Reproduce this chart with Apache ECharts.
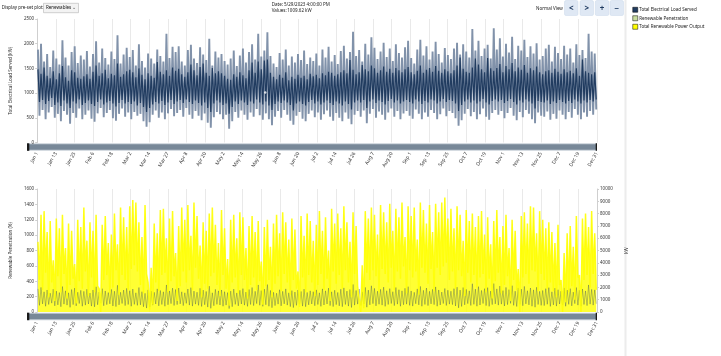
<!DOCTYPE html>
<html><head><meta charset="utf-8">
<script src="https://cdn.jsdelivr.net/npm/echarts@6/dist/echarts.min.js"></script>
<style>html,body{margin:0;padding:0;background:#fff}#c{width:721px;height:356px}</style>
</head><body><div id="c"></div><script>
const tickLabels = ['Jan 1','Jan 13','Jan 25','Feb 6','Feb 18','Mar 2','Mar 14','Mar 27','Apr 8','Apr 20','May 2','May 14','May 26','Jun 8','Jun 20','Jul 2','Jul 14','Jul 26','Aug 7','Aug 20','Sep 1','Sep 13','Sep 25','Oct 7','Oct 19','Nov 1','Nov 13','Nov 25','Dec 7','Dec 19','Dec 31'];

// Total electrical load served (kW), per 2-day period: outer envelope
const loadHi = [1880,2000,1640,1790,1530,1860,1700,1580,2070,1720,1560,1830,1950,1610,1760,
1680,1850,1540,1790,2050,1620,1900,1710,1580,1840,1690,2170,1600,1780,1920,
1730,1870,1560,1990,1650,1520,1800,1700,1600,1880,1750,1640,2200,1710,1940,
1830,1950,1640,1560,1870,1980,1700,1610,1930,1780,1670,2100,1560,1840,1720,
1790,1650,1580,1700,1860,1550,1760,1900,1620,1830,1990,1680,2200,1740,1860,
2230,1750,1600,1530,1810,1680,1880,1560,1740,1620,1790,1670,1860,1590,1720,
1650,1800,1560,1880,1720,1940,1640,1770,1590,1850,1960,1700,1830,2240,1750,
1870,1640,2000,1780,2130,1920,1690,1840,2020,1730,1900,1650,1990,1810,1720,
1930,2060,1710,1600,1880,2080,1760,1950,1680,1840,2040,1790,1620,1910,1770,
1690,1900,2020,1780,1990,1840,1720,2297,1860,2060,1750,1900,1980,1700,2310,
1880,2110,1740,2000,1820,2140,1690,1960,1860,2080,1730,1950,1800,2010,1680,
1750,1900,1980,1640,1940,1810,1690,1960,1780,1900,1620,1990,1770,1870,1710,2200,1840,1800];
const loadLo = [540,660,470,610,720,500,580,430,640,560,380,600,500,690,470,
560,650,480,420,590,700,510,600,660,490,440,580,690,520,610,
470,620,540,580,430,320,410,560,650,500,610,470,590,680,530,
600,660,520,700,560,480,640,540,450,590,400,300,510,620,570,
470,560,280,430,620,500,650,560,460,610,520,680,550,460,590,
470,350,520,640,500,660,560,440,360,540,620,480,430,580,650,
510,610,460,570,650,520,440,600,500,430,610,480,370,560,640,
520,650,390,580,680,500,630,560,460,610,690,520,640,470,590,
640,540,480,670,580,470,610,520,660,600,470,570,690,530,640,
600,490,340,450,580,680,530,620,470,570,690,520,460,600,660,
560,640,490,600,700,540,450,620,510,660,580,470,390,610,540,
520,630,460,580,480,650,560,470,620,500,680,560,470,610,520,640,560,670];
// dense core of the load trace
const coreHi = [1480,1390,1520,1350,1300,1440,1280,1400,1550,1320,1250,1460,1420,1310,1290,
1340,1380,1290,1430,1560,1350,1400,1470,1300,1390,1360,1600,1330,1380,1440,
1470,1420,1320,1500,1370,1280,1400,1350,1310,1630,1430,1380,1460,1350,1520,
1450,1490,1380,1330,1420,1580,1460,1360,1530,1600,1410,1350,1510,1400,1440,
1400,1350,1290,1270,1380,1330,1420,1360,1300,1460,1620,1410,1640,1480,1660,
1680,1410,1330,1280,1370,1310,1420,1260,1330,1290,1370,1310,1350,1280,1390,
1340,1370,1300,1400,1360,1430,1410,1350,1380,1420,1460,1400,1670,1470,1380,
1420,1570,1480,1440,1560,1500,1410,1460,1540,1430,1490,1410,1510,1460,1420,
1480,1530,1420,1380,1450,1560,1410,1470,1510,1430,1550,1450,1410,1480,1440,
1400,1460,1560,1720,1490,1430,1410,1520,1700,1580,1480,1420,1710,1500,1450,
1510,1590,1420,1550,1480,1610,1440,1520,1470,1570,1410,1500,1460,1540,1420,
1380,1440,1460,1410,1490,1430,1390,1480,1420,1450,1400,1500,1350,1680,1440,1410,1380,1420];
const coreLo = [820,860,780,840,900,760,810,740,850,790,700,830,790,870,760,
800,850,780,740,820,870,770,810,840,790,730,800,860,790,820,
780,830,750,800,720,620,700,770,820,790,840,760,810,860,780,
830,860,800,870,820,780,850,800,750,810,700,620,790,850,810,
760,790,580,720,830,780,850,810,760,830,790,870,810,770,830,
750,660,780,830,800,850,810,760,650,790,830,780,750,820,860,
790,830,770,810,850,800,760,830,790,750,830,780,670,810,850,
810,860,700,830,870,800,850,820,770,840,880,810,850,790,830,
860,820,790,870,830,780,840,810,870,850,790,830,880,820,860,
840,790,640,760,830,870,810,850,790,830,880,810,770,840,870,
830,860,800,840,880,820,770,850,810,870,830,790,690,840,820,
810,850,780,830,800,860,820,790,840,800,870,830,790,850,810,860,830,870];

// Total renewable power output (kW), per 2-day period: peak and trough
const renHi = [5700,7900,8200,6500,7400,4200,7600,6800,7900,5200,7200,6600,
3900,7500,6900,8500,5800,7300,6600,7900,1900,7100,7800,5600,
6300,8000,5500,8500,7700,6900,8600,9100,8900,7300,6100,8700,
2400,3600,7200,6400,8300,8400,6000,7600,8200,4800,7000,8500,
7500,8700,6200,8900,7800,5400,7300,6600,8000,8500,7100,5600,
8300,6800,4300,7500,7900,6000,8100,7700,5200,7000,7800,6500,
7400,4100,6900,7500,5300,7200,7900,6400,8100,7300,5900,7600,
6700,3300,7800,6200,8000,7400,5800,7100,8200,6600,7700,5000,
8400,7200,8000,6800,8600,7300,5700,8100,7000,2000,3800,8200,
7600,8500,7900,6300,8700,8100,7300,8800,6600,8400,7700,8900,
6100,8600,7800,8500,5900,8900,8300,7200,8700,6500,8800,8100,
8900,9300,7600,8400,6800,8600,7900,5800,8300,7400,8000,6900,
7800,8200,6300,7700,5500,7400,8300,6100,7000,7900,5200,7500,
6600,3500,7800,8100,7200,8600,8500,6400,8200,7500,6800,7300,
6500,5600,7100,2600,4800,6400,7000,5300,7800,3000,7600,8000,
6900,8200,6400];
const renLo = [2600,1800,3200,1200,2400,900,2900,1600,3100,1100,2200,2700,
700,2500,1900,3300,1300,2800,1600,2100,0,2600,3000,1500,
2000,3400,1400,3000,2600,1800,3500,3800,3300,2200,1500,3100,
200,600,2400,1700,3000,3200,1600,2500,2900,900,2100,3300,
2400,3400,1800,3600,2700,1200,2300,1900,2900,3200,2200,1300,
3000,1900,500,2400,2800,1500,3000,2600,1100,2200,2800,1800,
2500,600,2100,2600,1200,2300,2900,1700,3100,2400,1400,2600,
1900,400,2800,1600,3000,2400,1300,2200,3100,1800,2700,900,
3300,2300,3000,1900,3400,2400,1200,3100,2100,0,300,3200,
2600,3400,2900,1600,3500,3100,2400,3600,1800,3300,2700,3700,
1500,3400,2800,3300,1400,3600,3200,2300,3500,1700,3600,3000,
3700,4000,2600,3300,1900,3400,2900,1300,3200,2400,3000,2000,
2800,3100,1600,2700,1100,2500,3200,1500,2200,2900,900,2600,
1800,0,2800,3100,2300,3400,3300,1700,3100,2600,1900,2400,
1700,1200,2200,0,800,1600,2100,1000,2800,0,2600,3000,
2000,3100,1800];

const hoverPoint = [3568, 1009.62]; // 5/29 16:00
const HOURS = 8760, TICK = 292;

const FONT = 'Noto Sans';
const GL = 27, GW = 570;
const T1 = 19, H1 = 123.5, T2 = 189, H2 = 123;
const C_LIGHT = '#8192aa', C_DARK = '#213c60', C_YEL = '#ffff00', C_PEN = '#c9dd9f';

function zigzag(hi, lo) {
  const step = HOURS / hi.length, out = [];
  for (let i = 0; i < hi.length; i++) {
    out.push([(i + 0.25) * step, hi[i]]);
    out.push([(i + 0.75) * step, lo[i]]);
  }
  return out;
}

function xAxisCfg(idx) {
  return {
    type: 'value', gridIndex: idx, min: 0, max: HOURS, interval: TICK,
    axisLine: {show: false}, axisTick: {show: false},
    splitLine: {show: true, lineStyle: {color: '#e9e9e9', width: 1}},
    axisLabel: {rotate: 60, fontSize: 5, color: '#333', margin: 10, fontFamily: FONT,
      formatter: v => tickLabels[Math.round(v / TICK)] || ''}
  };
}
function yAxisCfg(o) {
  return Object.assign({
    type: 'value', min: 0,
    nameLocation: 'middle',
    nameTextStyle: {fontSize: 4.5, color: '#333', fontFamily: FONT},
    axisLine: {show: true, lineStyle: {color: '#cfcfcf'}},
    axisTick: {show: true, length: 2, lineStyle: {color: '#cfcfcf'}},
    splitLine: {show: false},
    axisLabel: {fontSize: 4.5, color: '#333', margin: 3, fontFamily: FONT, formatter: v => String(v)}
  }, o);
}

function scrollbar(y) {
  return {type: 'group', children: [
    {type: 'rect', shape: {x: GL, y: y, width: GW, height: 7.5}, style: {fill: '#c7cfd7'}},
    {type: 'rect', shape: {x: GL, y: y + 1, width: GW, height: 5.5}, style: {fill: '#788898'}},
    {type: 'rect', shape: {x: GL, y: y, width: 2.3, height: 7.5}, style: {fill: '#1a1a1a'}},
    {type: 'rect', shape: {x: GL + GW - 1.3, y: y, width: 1.3, height: 7.5}, style: {fill: '#1a1a1a'}}
  ]};
}
function button(x, glyph) {
  return {type: 'group', children: [
    {type: 'rect', shape: {x: x, y: 0.5, width: 13.5, height: 15, r: 1.5}, style: {fill: '#dfe8f4', stroke: '#cbd8ea', lineWidth: 0.5}},
    {type: 'text', x: x + 6.75, y: 8.5, style: {text: glyph, fill: '#1f3a60', font: 'bold 8px ' + FONT, align: 'center', verticalAlign: 'middle'}}
  ]};
}

const chart = echarts.init(document.getElementById('c'), null, {renderer: 'canvas'});
chart.setOption({
  animation: false,
  backgroundColor: '#fff',
  textStyle: {fontFamily: FONT},
  grid: [
    {left: GL, width: GW, top: T1, height: H1},
    {left: GL, width: GW, top: T2, height: H2}
  ],
  xAxis: [xAxisCfg(0), xAxisCfg(1)],
  yAxis: [
    yAxisCfg({gridIndex: 0, max: 2500, interval: 500, name: 'Total Electrical Load Served (kW)', nameGap: 17}),
    yAxisCfg({gridIndex: 1, max: 1600, interval: 200, name: 'Renewable Penetration (%)', nameGap: 17}),
    yAxisCfg({gridIndex: 1, max: 10000, interval: 1000, position: 'right', name: 'kW', nameGap: 22})
  ],
  legend: {
    orient: 'vertical', left: 627.5, top: 2, itemWidth: 5, itemHeight: 5, itemGap: 3, icon: 'rect',
    selectedMode: false,
    textStyle: {fontSize: 4.5, color: '#222', fontFamily: FONT, padding: [0, 0, 0, -3.5]},
    data: [
      {name: 'Total Electrical Load Served', itemStyle: {color: C_DARK, borderColor: '#000', borderWidth: 0.5}},
      {name: 'Renewable Penetration', itemStyle: {color: C_PEN, borderColor: '#000', borderWidth: 0.5}},
      {name: 'Total Renewable Power Output', itemStyle: {color: C_YEL, borderColor: '#000', borderWidth: 0.5}}
    ]
  },
  graphic: [
    {type: 'rect', shape: {x: 624.5, y: 0, width: 2, height: 356}, style: {fill: '#ececec'}},
    {type: 'text', x: 1.7, y: 8, style: {text: 'Display pre-set plot:', fill: '#222', font: '4.5px ' + FONT, verticalAlign: 'middle'}},
    {type: 'rect', shape: {x: 43.5, y: 3.3, width: 35, height: 9.4}, style: {fill: '#f3f3f3', stroke: '#b5b5b5', lineWidth: 0.6}},
    {type: 'text', x: 46, y: 8, style: {text: 'Renewables', fill: '#111', font: '4.5px ' + FONT, verticalAlign: 'middle'}},
    {type: 'text', x: 74, y: 7.5, style: {text: '⌄', fill: '#444', font: '5px ' + FONT, align: 'center', verticalAlign: 'middle'}},
    {type: 'text', x: 271.7, y: 5, style: {text: 'Date:', fill: '#222', font: '4.5px ' + FONT, verticalAlign: 'middle'}},
    {type: 'text', x: 284, y: 5, style: {text: '5/29/2023 4:00:00 PM', fill: '#222', font: '4.5px ' + FONT, verticalAlign: 'middle'}},
    {type: 'text', x: 271.7, y: 11, style: {text: 'Values:', fill: '#222', font: '4.5px ' + FONT, verticalAlign: 'middle'}},
    {type: 'text', x: 287.3, y: 11, style: {text: '1009.62 kW', fill: '#222', font: '4.5px ' + FONT, verticalAlign: 'middle'}},
    {type: 'text', x: 536, y: 8.3, style: {text: 'Normal View', fill: '#222', font: '4.5px ' + FONT, verticalAlign: 'middle'}},
    button(564.5, '<'), button(580, '>'), button(595.3, '+'), button(610, '−'),
    scrollbar(T1 + H1 + 0.8),
    scrollbar(T2 + H2 + 0.7)
  ],
  series: [
    {name: 'Load envelope', type: 'line', xAxisIndex: 0, yAxisIndex: 0, data: zigzag(loadHi, loadLo),
      showSymbol: false, silent: true, lineStyle: {color: C_LIGHT, width: 1.9}, itemStyle: {color: C_LIGHT}},
    {name: 'Total Electrical Load Served', type: 'line', xAxisIndex: 0, yAxisIndex: 0, data: zigzag(coreHi, coreLo),
      showSymbol: false, silent: true, lineStyle: {color: C_DARK, width: 1.2}, itemStyle: {color: C_DARK}},
    {name: 'hover', type: 'scatter', xAxisIndex: 0, yAxisIndex: 0, data: [hoverPoint],
      symbolSize: 2.5, itemStyle: {color: '#fff'}, silent: true, z: 5},
    {name: 'Total Electrical Load Served', type: 'line', xAxisIndex: 1, yAxisIndex: 2, data: zigzag(loadHi, loadLo),
      showSymbol: false, silent: true, lineStyle: {color: C_DARK, width: 1, opacity: 0.32}, itemStyle: {color: C_DARK}},
    {name: 'Renewable Penetration', type: 'line', xAxisIndex: 1, yAxisIndex: 1, data: [],
      showSymbol: false, lineStyle: {color: C_PEN}, itemStyle: {color: C_PEN}},
    {name: 'Total Renewable Power Output', type: 'line', xAxisIndex: 1, yAxisIndex: 2, data: zigzag(renHi, renLo),
      showSymbol: false, silent: true, lineStyle: {color: C_YEL, width: 1.5, opacity: 0.9},
      areaStyle: {color: C_YEL, opacity: 0.8}, itemStyle: {color: C_YEL}}
  ]
});
</script></body></html>
